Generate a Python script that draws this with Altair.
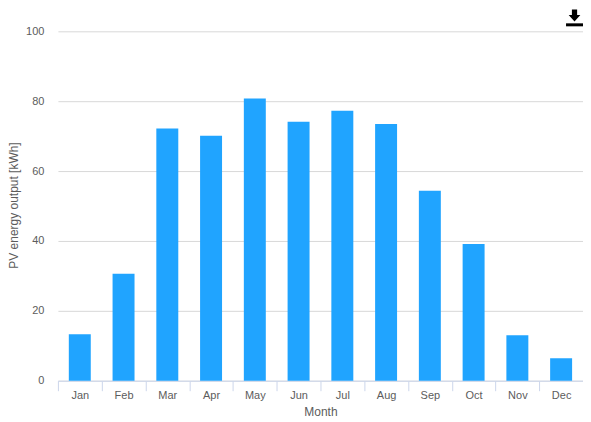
import altair as alt
import pandas as pd

months = ["Jan", "Feb", "Mar", "Apr", "May", "Jun", "Jul", "Aug", "Sep", "Oct", "Nov", "Dec"]
output = [13.3, 30.6, 72.2, 70.1, 80.8, 74.1, 77.3, 73.5, 54.4, 39.1, 13.0, 6.4]
df = pd.DataFrame({"Month": months, "Output": output})

FONT = "Liberation Sans"
TEXT = "#5c5c5c"

bars = alt.Chart(df).mark_bar(color="#20a4ff", width=22).encode(
    x=alt.X(
        "Month:N",
        sort=months,
        scale=alt.Scale(paddingInner=0, paddingOuter=0),
        axis=alt.Axis(
            title="Month", titleColor=TEXT, titleFont=FONT, titleFontSize=12,
            titleFontWeight="normal", titlePadding=6,
            labelAngle=0, labelColor=TEXT, labelFont=FONT, labelFontSize=11,
            labelPadding=-1, domainColor="#ccd6eb", tickColor="#ccd6eb",
            tickSize=10, tickBand="extent", grid=False,
        ),
    ),
    y=alt.Y(
        "Output:Q",
        scale=alt.Scale(domain=[0, 100], nice=False),
        axis=alt.Axis(
            title="PV energy output [kWh]", titleColor=TEXT, titleFont=FONT,
            titleFontSize=12, titleFontWeight="normal", titleX=-49, titleY=174,
            titleBaseline="top", titleAlign="center",
            values=[0, 20, 40, 60, 80, 100], labelColor=TEXT, labelFont=FONT,
            labelFontSize=11, labelPadding=14, domain=False, ticks=False,
            grid=True, gridColor="#d8d8d8", gridWidth=1,
        ),
    ),
)

icon_arrow = alt.Chart(pd.DataFrame({"i": [0]})).mark_point(
    shape="M-0.38,-1 L0.38,-1 L0.38,-0.2 L0.85,-0.2 L0,0.75 L-0.85,-0.2 L-0.38,-0.2 Z",
    filled=True, color="black", opacity=1, size=190, clip=False,
).encode(x=alt.value(517.5), y=alt.value(-15))

icon_bar = alt.Chart(pd.DataFrame({"i": [0]})).mark_rect(color="black", clip=False).encode(
    x=alt.value(509), x2=alt.value(527), y=alt.value(-8), y2=alt.value(-5)
)

chart = (bars + icon_arrow + icon_bar).properties(
    width=526,
    height=350,
    background="white",
    padding={"left": 50, "top": 23, "right": 0, "bottom": 38},
    autosize=alt.AutoSizeParams(type="none"),
).configure_view(stroke="transparent")

chart.save("out.html", embed_options={"renderer": "svg", "actions": False})
